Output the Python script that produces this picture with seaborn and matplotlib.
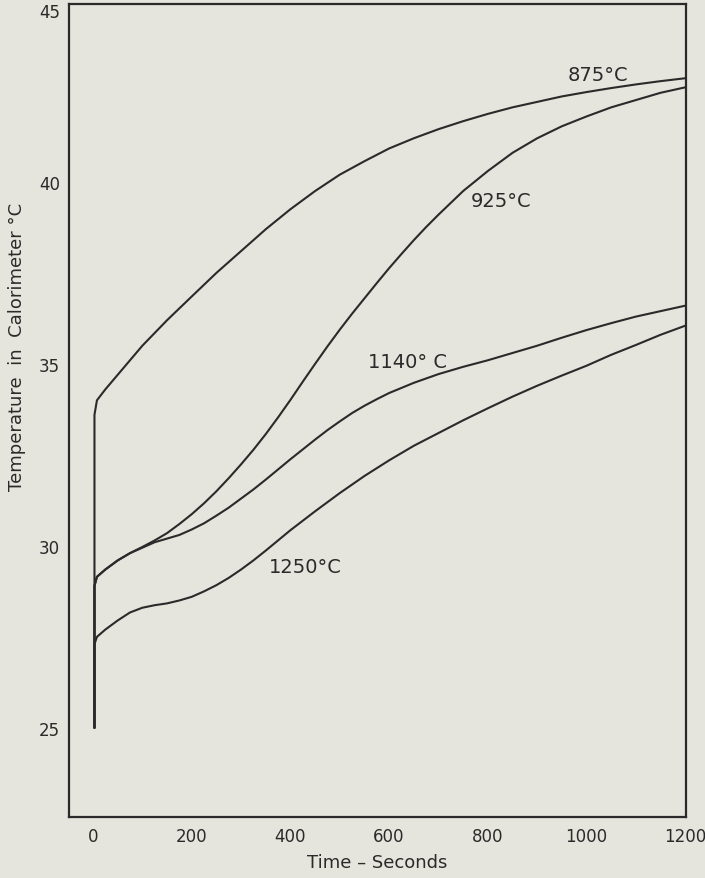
import matplotlib
matplotlib.use("Agg")
import matplotlib.pyplot as plt
import seaborn as sns
import pandas as pd

# ---- data ----
t_875 = [3, 3, 8, 25, 50, 100, 150, 196, 250, 300, 350, 400, 450, 500, 550, 600, 650, 700, 750, 800,
         850, 900, 950, 1000, 1050, 1100, 1150, 1200]
T_875 = [25, 33.6, 34.0, 34.3, 34.7, 35.5, 36.2, 36.8, 37.5, 38.1, 38.7, 39.25, 39.75, 40.2, 40.57, 40.92,
         41.2, 41.45, 41.67, 41.87, 42.05, 42.2, 42.35, 42.47, 42.58, 42.68, 42.77, 42.85]

t_925 = [3, 3, 8, 25, 50, 75, 100, 125, 150, 175, 200, 225, 250, 275, 300, 325, 350, 375, 400, 425,
         450, 475, 500, 525, 550, 575, 600, 625, 650, 675, 700, 750, 800, 850, 900, 950, 1000, 1050,
         1100, 1150, 1200]
T_925 = [25, 28.9, 29.15, 29.35, 29.6, 29.8, 29.97, 30.15, 30.35, 30.6, 30.87, 31.17, 31.5, 31.86,
         32.24, 32.64, 33.07, 33.53, 34.01, 34.51, 35.0, 35.48, 35.94, 36.38, 36.8, 37.22, 37.63, 38.02,
         38.4, 38.76, 39.1, 39.75, 40.3, 40.8, 41.2, 41.53, 41.8, 42.05, 42.25, 42.45, 42.6]

t_1140 = [3, 3, 8, 25, 50, 75, 100, 125, 150, 175, 200, 225, 250, 275, 300, 325, 350, 375, 400, 425,
          450, 475, 500, 525, 550, 575, 600, 650, 700, 750, 800, 850, 900, 950, 1000, 1050, 1100,
          1150, 1200]
T_1140 = [25, 28.9, 29.15, 29.35, 29.6, 29.8, 29.95, 30.1, 30.2, 30.3, 30.45, 30.62, 30.83, 31.05,
          31.3, 31.55, 31.82, 32.1, 32.38, 32.65, 32.92, 33.18, 33.42, 33.65, 33.85, 34.03, 34.2,
          34.48, 34.72, 34.92, 35.1, 35.3, 35.5, 35.72, 35.93, 36.12, 36.3, 36.45, 36.6]

t_1250 = [3, 3, 8, 25, 50, 75, 100, 125, 150, 175, 200, 225, 250, 275, 300, 325, 350, 375, 400, 450,
          500, 550, 600, 650, 700, 750, 800, 850, 900, 950, 1000, 1050, 1100, 1150, 1200]
T_1250 = [25, 27.3, 27.5, 27.7, 27.95, 28.17, 28.3, 28.37, 28.42, 28.5, 28.6, 28.75, 28.92, 29.12,
          29.35, 29.6, 29.87, 30.15, 30.43, 30.95, 31.45, 31.92, 32.35, 32.75, 33.1, 33.45, 33.78,
          34.1, 34.4, 34.68, 34.95, 35.25, 35.52, 35.8, 36.05]

series_names = ["875°C", "925°C", "1140° C", "1250°C"]
label_x = [1023, 827, 638, 430]
label_y = [42.95, 39.48, 35.08, 29.42]

x_ticks = [0, 200, 400, 600, 800, 1000, 1200]
x_ticklabels = ["0", "200", "400", "600", "800", "1000", "1200"]
y_ticks = [25, 30, 35, 40]
y_top_label = "45"

# ---- plotting ----
sns.set_theme(style="white")
plt.rcParams["font.family"] = ["DejaVu Sans"]

bg = "#e5e5dd"
ink = "#2a2a2a"

fig = plt.figure(figsize=(7.05, 8.79), dpi=100, facecolor=bg)
ax = fig.add_axes([69 / 705, 1 - 818 / 879, (686 - 69) / 705, (818 - 5) / 879])
ax.set_facecolor(bg)

for t, T in [(t_875, T_875), (t_925, T_925), (t_1140, T_1140), (t_1250, T_1250)]:
    df = pd.DataFrame({"t": t, "T": T})
    sns.lineplot(data=df, x="t", y="T", sort=False, estimator=None,
                 color=ink, linewidth=1.5, ax=ax)

for name, lx, ly in zip(series_names, label_x, label_y):
    ax.text(lx, ly, name, fontsize=14, color=ink, ha="center", va="center")

ax.set_xlim(-48.6, 1201.6)
ax.set_ylim(22.55, 44.89)
ax.set_xticks(x_ticks)
ax.set_xticklabels(x_ticklabels)
ax.set_yticks(y_ticks)
ax.tick_params(direction="in", length=6, width=1.4, colors=ink,
               labelsize=12, labelcolor=ink, pad=7)
ax.tick_params(axis="y", pad=6.5)

# top "45" label sits just under the top frame in the reference
ax.text(-9 / 617, 44.67, y_top_label, transform=ax.get_yaxis_transform(),
        ha="right", va="center", fontsize=12, color=ink)

for sp in ax.spines.values():
    sp.set_color(ink)
    sp.set_linewidth(1.6)
    sp.set_visible(True)

ax.set_xlabel("Time – Seconds", fontsize=13, color=ink, labelpad=6)
ax.set_ylabel("Temperature  in  Calorimeter °C", fontsize=13, color=ink)
ax.yaxis.set_label_coords(-0.07, 0.58)

fig.savefig("out.png", dpi=100, facecolor=bg)
